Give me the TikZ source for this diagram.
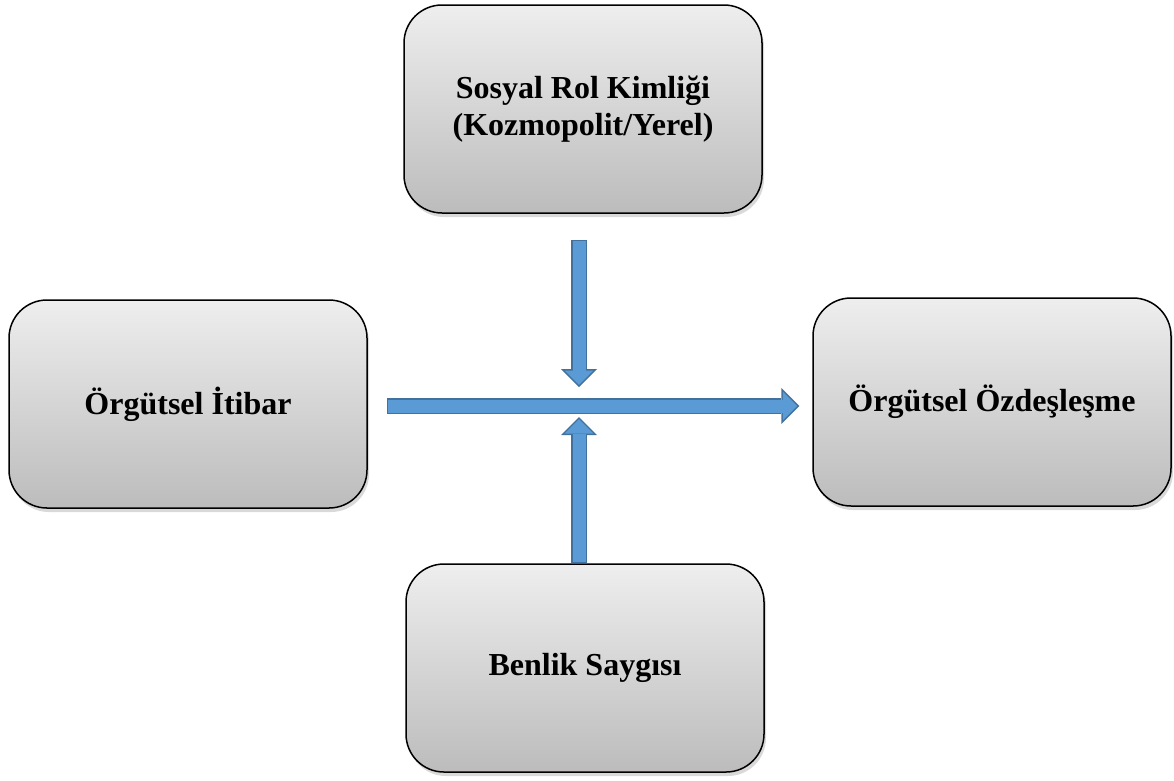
\documentclass[tikz,border=0pt]{standalone}
\usepackage{fontspec}
\setmainfont{Liberation Serif}
\usetikzlibrary{arrows.meta,shadows,calc}
\definecolor{arrowfill}{RGB}{91,155,213}
\definecolor{arrowline}{RGB}{65,113,156}
\definecolor{boxtop}{RGB}{238,238,238}
\definecolor{boxbottom}{RGB}{188,188,188}
\begin{document}
\begin{tikzpicture}[
  x=1pt, y=-1pt,
  box/.style={rectangle, rounded corners=38pt, draw, line width=1.5pt, minimum width=358pt, minimum height=208pt,
    top color=boxtop, bottom color=boxbottom, drop shadow={opacity=0.3, shadow xshift=2pt, shadow yshift=-4pt},
    font=\fontsize{32}{37}\selectfont\bfseries, align=center},
  blockarrow/.style={line width=16pt, draw=arrowline, -{Triangle[width=36pt,length=18pt,line width=0pt]},
    postaction={draw=arrowfill, line width=13pt, shorten <=1.5pt, shorten >=2.1pt,
      -{Triangle[width=28.8pt,length=14.4pt,line width=0pt]}}}
]
\useasboundingbox (0,0) rectangle (1174,780);

% Boxes
\node[box] (rol) at (583,109) {Sosyal Rol Kimliği\\(Kozmopolit/Yerel)};
\node[box] (itibar) at (188,404) {Örgütsel İtibar};
\node[box] (ozdes) at (992,402) {Örgütsel Özdeşleşme};
\node[box] (saygi) at (585,668) {Benlik Saygısı};
\coordinate (hub) at (579,406);

% Arrows
\draw[blockarrow] ($(itibar.east|-hub)+(19,0)$) -- ($(ozdes.west|-hub)+(-13,0)$);
\draw[blockarrow] ($(hub|-rol.south)+(0,26)$) -- ($(hub)+(0,-19)$);
\draw[blockarrow] (hub|-saygi.north) -- ($(hub)+(0,11)$);
\end{tikzpicture}
\end{document}
